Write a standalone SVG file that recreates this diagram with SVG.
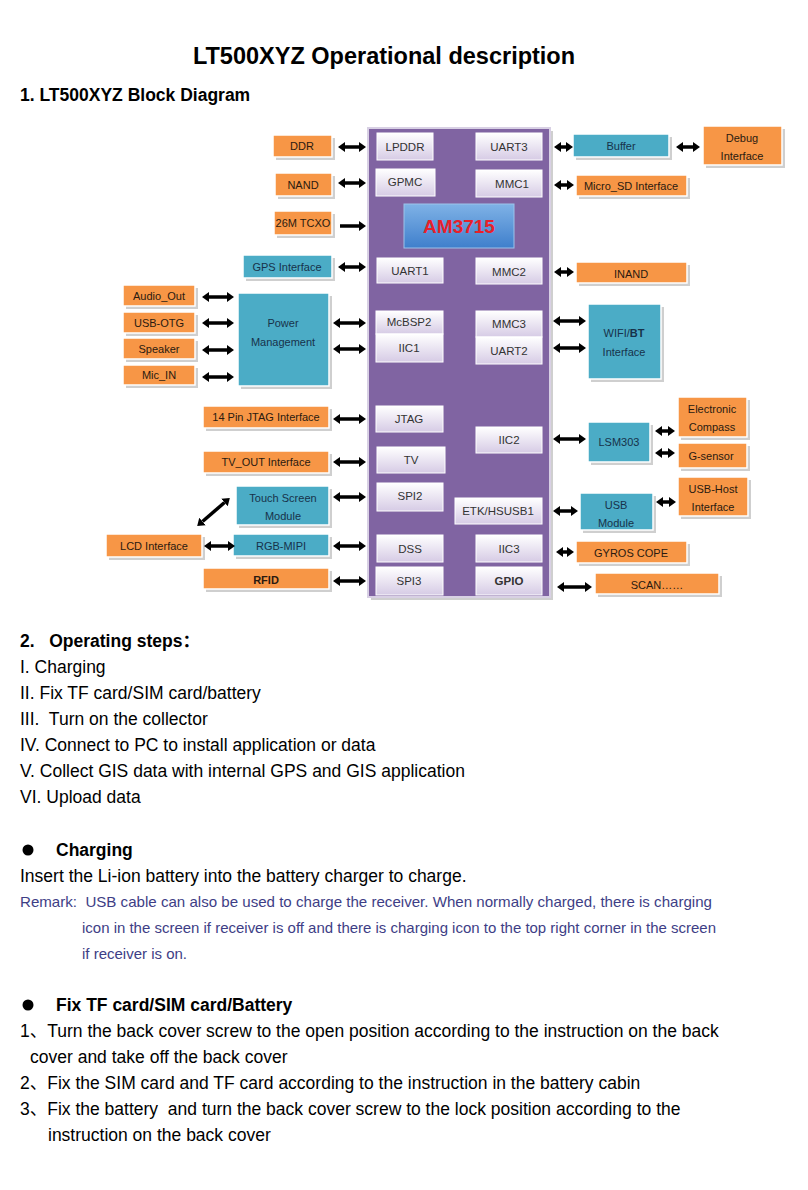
<svg xmlns="http://www.w3.org/2000/svg" width="808" height="1190" viewBox="0 0 808 1190">
<style>
text{font-family:"Liberation Sans",Arial,"Noto Sans CJK SC",sans-serif;}
.sh{fill:#cfcfcf;}
.or{fill:#f79646;stroke:#ffffff;stroke-width:1.5;}
.te{fill:#4bacc6;stroke:#ffffff;stroke-width:1.5;}
.chip{fill:url(#chipg);stroke:#ffffff;stroke-width:1;}
.lb{font-size:11px;text-anchor:middle;fill:#2a1a10;}
.lt{font-size:11px;text-anchor:middle;fill:#17324a;}
.lc{font-size:11.5px;text-anchor:middle;fill:#333333;}
.ar{stroke:#000;stroke-width:3.5;fill:none;}
.body{font-size:17.5px;fill:#000;white-space:pre;}
.bold{font-weight:bold;}
.rm{font-size:14.5px;fill:#3e3e86;white-space:pre;}
</style>
<defs>
<linearGradient id="chipg" x1="0" y1="0" x2="0" y2="1">
<stop offset="0" stop-color="#ffffff"/>
<stop offset="1" stop-color="#d6cbe5"/>
</linearGradient>
<linearGradient id="amg" x1="0" y1="0" x2="0" y2="1">
<stop offset="0" stop-color="#7fb2e6"/>
<stop offset="1" stop-color="#3f7fcc"/>
</linearGradient>
<marker id="ae" markerUnits="userSpaceOnUse" markerWidth="7" markerHeight="10" refX="0" refY="5" orient="auto" viewBox="0 0 7 10"><path d="M0,0 L7,5 L0,10 z" fill="#000"/></marker>
<marker id="as" markerUnits="userSpaceOnUse" markerWidth="7" markerHeight="10" refX="7" refY="5" orient="auto" viewBox="0 0 7 10"><path d="M7,0 L0,5 L7,10 z" fill="#000"/></marker>
</defs>
<rect width="808" height="1190" fill="#ffffff"/>

<text x="384" y="64" class="bold" font-size="23.5" text-anchor="middle">LT500XYZ Operational description</text>
<text x="20" y="101" class="bold" font-size="17.5">1. LT500XYZ Block Diagram</text>

<g id="processor">
<rect x="371" y="131" width="182" height="469" class="sh"/>
<rect x="368" y="128" width="182" height="469" fill="#8064a2" stroke="#d8d0e4" stroke-width="2"/>
</g>
<g id="LPDDR"><rect x="377" y="133" width="56" height="27" class="chip"/><text x="405" y="151" class="lc">LPDDR</text></g>
<g id="UART3"><rect x="476" y="133" width="66" height="27" class="chip"/><text x="509" y="151" class="lc">UART3</text></g>
<g id="GPMC"><rect x="376" y="169" width="59" height="27" class="chip"/><text x="405" y="186" class="lc">GPMC</text></g>
<g id="MMC1"><rect x="476" y="170" width="66" height="27" class="chip"/><text x="512" y="188" class="lc">MMC1</text></g>
<g id="AM3715"><rect x="404" y="204" width="110" height="44" fill="url(#amg)" stroke="#9cc3ea" stroke-width="1"/><text x="459" y="233" font-size="19" font-weight="bold" text-anchor="middle" fill="#e8202a">AM3715</text></g>
<g id="UART1"><rect x="377" y="258" width="66" height="25" class="chip"/><text x="410" y="275" class="lc">UART1</text></g>
<g id="MMC2"><rect x="476" y="258" width="66" height="26" class="chip"/><text x="509" y="276" class="lc">MMC2</text></g>
<g id="McBSP2"><rect x="376" y="311" width="67" height="23" class="chip"/><text x="409" y="326" class="lc">McBSP2</text></g>
<g id="IIC1"><rect x="376" y="334" width="67" height="28" class="chip"/><text x="409" y="352" class="lc">IIC1</text></g>
<g id="MMC3"><rect x="476" y="311" width="66" height="26" class="chip"/><text x="509" y="328" class="lc">MMC3</text></g>
<g id="UART2"><rect x="476" y="337" width="66" height="27" class="chip"/><text x="509" y="355" class="lc">UART2</text></g>
<g id="JTAG"><rect x="376" y="406" width="67" height="26" class="chip"/><text x="409" y="423" class="lc">JTAG</text></g>
<g id="IIC2"><rect x="476" y="427" width="66" height="26" class="chip"/><text x="509" y="444" class="lc">IIC2</text></g>
<g id="TV"><rect x="377" y="447" width="68" height="26" class="chip"/><text x="411" y="464" class="lc">TV</text></g>
<g id="SPI2"><rect x="377" y="483" width="66" height="28" class="chip"/><text x="410" y="500" class="lc">SPI2</text></g>
<g id="ETK"><rect x="455" y="498" width="87" height="26" class="chip"/><text x="498" y="515" class="lc">ETK/HSUSB1</text></g>
<g id="DSS"><rect x="377" y="535" width="66" height="27" class="chip"/><text x="410" y="553" class="lc">DSS</text></g>
<g id="IIC3"><rect x="476" y="535" width="66" height="27" class="chip"/><text x="509" y="553" class="lc">IIC3</text></g>
<g id="SPI3"><rect x="376" y="567" width="67" height="28" class="chip"/><text x="409" y="585" class="lc">SPI3</text></g>
<g id="GPIO"><rect x="476" y="567" width="66" height="28" class="chip"/><text x="509" y="585" class="lc" font-weight="bold" fill="#222">GPIO</text></g>

<g id="DDR"><rect x="276" y="138" width="59" height="22" class="sh"/><rect x="273" y="135" width="59" height="22" class="or"/><text x="302" y="150" class="lb">DDR</text></g>
<g id="NAND"><rect x="278" y="176" width="57" height="23" class="sh"/><rect x="275" y="173" width="57" height="23" class="or"/><text x="303" y="189" class="lb">NAND</text></g>
<g id="TCXO"><rect x="277" y="214" width="58" height="24" class="sh"/><rect x="274" y="211" width="58" height="24" class="or"/><text x="303" y="227" class="lb">26M TCXO</text></g>
<g id="GPS"><rect x="246" y="258" width="89" height="23" class="sh"/><rect x="243" y="255" width="89" height="23" class="te"/><text x="287" y="271" class="lt">GPS Interface</text></g>
<g id="AudioOut"><rect x="126" y="288" width="72" height="21" class="sh"/><rect x="123" y="285" width="72" height="21" class="or"/><text x="159" y="300" class="lb">Audio_Out</text></g>
<g id="USBOTG"><rect x="126" y="315" width="72" height="21" class="sh"/><rect x="123" y="312" width="72" height="21" class="or"/><text x="159" y="327" class="lb">USB-OTG</text></g>
<g id="Speaker"><rect x="126" y="341" width="72" height="21" class="sh"/><rect x="123" y="338" width="72" height="21" class="or"/><text x="159" y="353" class="lb">Speaker</text></g>
<g id="MicIN"><rect x="126" y="368" width="72" height="20" class="sh"/><rect x="123" y="365" width="72" height="20" class="or"/><text x="159" y="379" class="lb">Mic_IN</text></g>
<g id="Power"><rect x="241" y="296" width="91" height="93" class="sh"/><rect x="238" y="293" width="91" height="93" class="te"/><text x="283" y="327" class="lt">Power</text><text x="283" y="346" class="lt">Management</text></g>
<g id="JTAGIF"><rect x="206" y="409" width="126" height="22" class="sh"/><rect x="203" y="406" width="126" height="22" class="or"/><text x="266" y="421" class="lb">14 Pin JTAG Interface</text></g>
<g id="TVOUT"><rect x="206" y="454" width="126" height="22" class="sh"/><rect x="203" y="451" width="126" height="22" class="or"/><text x="266" y="466" class="lb">TV_OUT Interface</text></g>
<g id="Touch"><rect x="239" y="489" width="93" height="39" class="sh"/><rect x="236" y="486" width="93" height="39" class="te"/><text x="283" y="502" class="lt">Touch Screen</text><text x="283" y="520" class="lt">Module</text></g>
<g id="LCD"><rect x="109" y="537" width="96" height="23" class="sh"/><rect x="106" y="534" width="96" height="23" class="or"/><text x="154" y="550" class="lb">LCD Interface</text></g>
<g id="RGB"><rect x="236" y="537" width="96" height="22" class="sh"/><rect x="233" y="534" width="96" height="22" class="te"/><text x="281" y="550" class="lt" font-size="12">RGB-MIPI</text></g>
<g id="RFID"><rect x="206" y="571" width="126" height="21" class="sh"/><rect x="203" y="568" width="126" height="21" class="or"/><text x="266" y="584" class="lb" font-size="13" font-weight="bold">RFID</text></g>

<g id="Buffer"><rect x="576" y="137" width="96" height="23" class="sh"/><rect x="573" y="134" width="96" height="23" class="te"/><text x="621" y="150" class="lt">Buffer</text></g>
<g id="Debug"><rect x="706" y="129" width="79" height="39" class="sh"/><rect x="703" y="126" width="79" height="39" class="or"/><text x="742" y="142" class="lb">Debug</text><text x="742" y="160" class="lb">Interface</text></g>
<g id="MicroSD"><rect x="579" y="178" width="111" height="21" class="sh"/><rect x="576" y="175" width="111" height="21" class="or"/><text x="631" y="190" class="lb">Micro_SD Interface</text></g>
<g id="INAND"><rect x="579" y="265" width="111" height="21" class="sh"/><rect x="576" y="262" width="111" height="21" class="or"/><text x="631" y="278" class="lb" font-size="15">INAND</text></g>
<g id="WIFI"><rect x="591" y="307" width="73" height="75" class="sh"/><rect x="588" y="304" width="73" height="75" class="te"/><text x="624" y="337" class="lt" font-size="12">WIFI/<tspan font-weight="bold">BT</tspan></text><text x="624" y="356" class="lt">Interface</text></g>
<g id="LSM303"><rect x="591" y="425" width="62" height="40" class="sh"/><rect x="588" y="422" width="62" height="40" class="te"/><text x="619" y="446" class="lt" font-size="12">LSM303</text></g>
<g id="Compass"><rect x="681" y="400" width="69" height="40" class="sh"/><rect x="678" y="397" width="69" height="40" class="or"/><text x="712" y="413" class="lb">Electronic</text><text x="712" y="431" class="lb">Compass</text></g>
<g id="Gsensor"><rect x="681" y="446" width="69" height="25" class="sh"/><rect x="678" y="443" width="69" height="25" class="or"/><text x="711" y="460" class="lb">G-sensor</text></g>
<g id="USBModule"><rect x="583" y="496" width="73" height="37" class="sh"/><rect x="580" y="493" width="73" height="37" class="te"/><text x="616" y="509" class="lt">USB</text><text x="616" y="527" class="lt">Module</text></g>
<g id="USBHost"><rect x="681" y="480" width="70" height="39" class="sh"/><rect x="678" y="477" width="70" height="39" class="or"/><text x="713" y="493" class="lb">USB-Host</text><text x="713" y="511" class="lb">Interface</text></g>
<g id="Gyros"><rect x="579" y="544" width="111" height="22" class="sh"/><rect x="576" y="541" width="111" height="22" class="or"/><text x="631" y="557" class="lb" font-size="13">GYROS COPE</text></g>
<g id="Scan"><rect x="598" y="576" width="124" height="21" class="sh"/><rect x="595" y="573" width="124" height="21" class="or"/><text x="657" y="589" class="lb" font-size="13">SCAN……</text></g>

<g id="connectors">
<line x1="345" y1="147" x2="359" y2="147" class="ar" marker-start="url(#as)" marker-end="url(#ae)"/>
<line x1="345" y1="183" x2="359" y2="183" class="ar" marker-start="url(#as)" marker-end="url(#ae)"/>
<line x1="340" y1="226" x2="359" y2="226" class="ar" marker-end="url(#ae)"/>
<line x1="345" y1="267" x2="359" y2="267" class="ar" marker-start="url(#as)" marker-end="url(#ae)"/>
<line x1="209" y1="297" x2="227" y2="297" class="ar" marker-start="url(#as)" marker-end="url(#ae)"/>
<line x1="209" y1="323" x2="227" y2="323" class="ar" marker-start="url(#as)" marker-end="url(#ae)"/>
<line x1="209" y1="350" x2="227" y2="350" class="ar" marker-start="url(#as)" marker-end="url(#ae)"/>
<line x1="209" y1="377" x2="227" y2="377" class="ar" marker-start="url(#as)" marker-end="url(#ae)"/>
<line x1="340" y1="323" x2="359" y2="323" class="ar" marker-start="url(#as)" marker-end="url(#ae)"/>
<line x1="340" y1="349" x2="359" y2="349" class="ar" marker-start="url(#as)" marker-end="url(#ae)"/>
<line x1="340" y1="419" x2="359" y2="419" class="ar" marker-start="url(#as)" marker-end="url(#ae)"/>
<line x1="340" y1="462" x2="359" y2="462" class="ar" marker-start="url(#as)" marker-end="url(#ae)"/>
<line x1="340" y1="497" x2="359" y2="497" class="ar" marker-start="url(#as)" marker-end="url(#ae)"/>
<line x1="340" y1="546" x2="359" y2="546" class="ar" marker-start="url(#as)" marker-end="url(#ae)"/>
<line x1="340" y1="581" x2="359" y2="581" class="ar" marker-start="url(#as)" marker-end="url(#ae)"/>
<line x1="211" y1="546" x2="228" y2="546" class="ar" marker-start="url(#as)" marker-end="url(#ae)"/>
<line x1="202.5" y1="521.5" x2="224.5" y2="502.5" class="ar" marker-start="url(#as)" marker-end="url(#ae)"/>
<line x1="561" y1="147" x2="566" y2="147" class="ar" marker-start="url(#as)" marker-end="url(#ae)"/>
<line x1="561" y1="185" x2="567" y2="185" class="ar" marker-start="url(#as)" marker-end="url(#ae)"/>
<line x1="561" y1="272" x2="567" y2="272" class="ar" marker-start="url(#as)" marker-end="url(#ae)"/>
<line x1="560" y1="321" x2="579" y2="321" class="ar" marker-start="url(#as)" marker-end="url(#ae)"/>
<line x1="560" y1="348" x2="579" y2="348" class="ar" marker-start="url(#as)" marker-end="url(#ae)"/>
<line x1="560" y1="439" x2="579" y2="439" class="ar" marker-start="url(#as)" marker-end="url(#ae)"/>
<line x1="560" y1="511" x2="571" y2="511" class="ar" marker-start="url(#as)" marker-end="url(#ae)"/>
<line x1="563" y1="552" x2="567" y2="552" class="ar" marker-start="url(#as)" marker-end="url(#ae)"/>
<line x1="564" y1="587" x2="585" y2="587" class="ar" marker-start="url(#as)" marker-end="url(#ae)"/>
<line x1="683" y1="147" x2="693" y2="147" class="ar" marker-start="url(#as)" marker-end="url(#ae)"/>
<line x1="662" y1="431" x2="668" y2="431" class="ar" marker-start="url(#as)" marker-end="url(#ae)"/>
<line x1="662" y1="453" x2="668" y2="453" class="ar" marker-start="url(#as)" marker-end="url(#ae)"/>
<line x1="663" y1="502" x2="669" y2="502" class="ar" marker-start="url(#as)" marker-end="url(#ae)"/>
</g>

<text x="20" y="647" class="body bold">2.   Operating steps<tspan font-family="'Noto Sans CJK SC',sans-serif">：</tspan></text>
<text x="20" y="673" class="body">I. Charging</text>
<text x="20" y="699" class="body">II. Fix TF card/SIM card/battery</text>
<text x="20" y="725" class="body">III.  Turn on the collector</text>
<text x="20" y="751" class="body">IV. Connect to PC to install application or data</text>
<text x="20" y="777" class="body">V. Collect GIS data with internal GPS and GIS application</text>
<text x="20" y="803" class="body">VI. Upload data</text>

<circle cx="28" cy="850" r="5.5" fill="#000"/>
<text x="56" y="856" class="body bold">Charging</text>
<text x="20" y="882" class="body">Insert the Li-ion battery into the battery charger to charge.</text>
<text x="20" y="907" class="rm" textLength="692" lengthAdjust="spacingAndGlyphs">Remark:  USB cable can also be used to charge the receiver. When normally charged, there is charging</text>
<text x="82" y="933" class="rm" textLength="634" lengthAdjust="spacingAndGlyphs">icon in the screen if receiver is off and there is charging icon to the top right corner in the screen</text>
<text x="82" y="959" class="rm" textLength="105" lengthAdjust="spacingAndGlyphs">if receiver is on.</text>

<circle cx="28" cy="1005" r="5.5" fill="#000"/>
<text x="56" y="1011" class="body bold">Fix TF card/SIM card/Battery</text>
<text x="20" y="1037" class="body">1、Turn the back cover screw to the open position according to the instruction on the back</text>
<text x="30" y="1063" class="body">cover and take off the back cover</text>
<text x="20" y="1089" class="body">2、Fix the SIM card and TF card according to the instruction in the battery cabin</text>
<text x="20" y="1115" class="body">3、Fix the battery  and turn the back cover screw to the lock position according to the</text>
<text x="48" y="1141" class="body">instruction on the back cover</text>
</svg>
